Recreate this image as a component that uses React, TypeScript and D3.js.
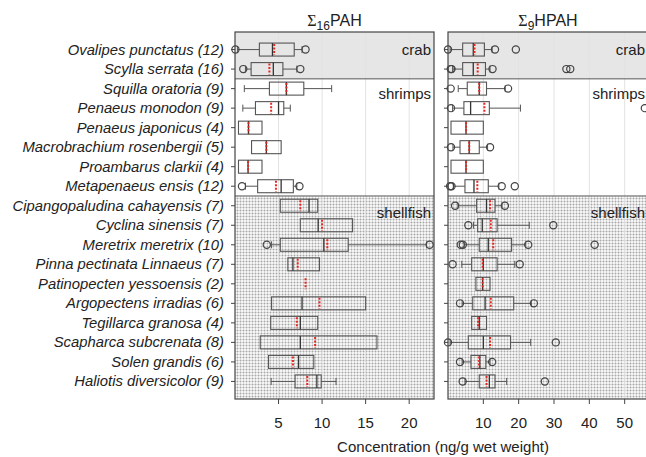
import { useRef, useEffect } from "react";
import * as d3 from "d3";

const species = [
  "Ovalipes punctatus (12)",
  "Scylla serrata (16)",
  "Squilla oratoria (9)",
  "Penaeus monodon (9)",
  "Penaeus japonicus (4)",
  "Macrobrachium rosenbergii (5)",
  "Proambarus clarkii (4)",
  "Metapenaeus ensis (12)",
  "Cipangopaludina cahayensis (7)",
  "Cyclina sinensis (7)",
  "Meretrix meretrix (10)",
  "Pinna pectinata Linnaeus (7)",
  "Patinopecten yessoensis (2)",
  "Argopectens irradias (6)",
  "Tegillarca granosa (4)",
  "Scapharca subcrenata (8)",
  "Solen grandis (6)",
  "Haliotis diversicolor (9)",
];

const groupNames = ["crab", "shrimps", "shellfish"];

// Σ16PAH
const pahLo = [0.3, 1.2, 1.07, 0.9, 0.4, 1.9, 0.4, 1.2, 5.2, 7.5, 4.2, 6.07, 8.1, 4.2, 4.1, 2.9, 3.85, 4.15];
const pahQ1 = [2.8, 1.85, 3.95, 2.35, 0.4, 1.9, 0.4, 2.6, 5.2, 7.5, 5.2, 6.07, 8.1, 4.2, 4.1, 2.9, 3.85, 6.9];
const pahMed = [4.3, 4.4, 5.9, 5.0, 1.55, 3.6, 1.5, 5.3, 8.5, 9.55, 10.2, 6.65, 8.1, 7.7, 7.5, 7.5, 7.3, 9.4];
const pahQ3 = [6.8, 5.5, 7.9, 5.6, 3.1, 5.3, 3.1, 6.7, 9.5, 13.5, 13.0, 9.7, 8.1, 15.0, 9.5, 16.3, 9.05, 9.9];
const pahHi = [7.7, 7.1, 11.1, 6.35, 3.1, 5.3, 3.1, 7.1, 9.5, 13.5, 22.0, 9.7, 8.1, 15.0, 9.5, 16.3, 9.05, 11.6];
const pahMean = [4.5, 3.95, 5.9, 4.15, 1.55, 3.6, 1.5, 4.7, 7.5, 10.0, 10.6, 7.2, 8.1, 9.7, 7.1, 9.2, 6.65, 8.3];
const pahOut = [[0.05, 8.1], [0.95, 7.5], [], [], [], [], [], [0.8, 7.4], [], [], [3.65, 22.35], [], [], [], [], [], [], []];

// Σ9HPAH
const hpahLo = [0.6, 1.3, 2.9, 1.3, 0.85, 1.4, 0.85, 1.5, 2.8, 7.2, 4.6, 3.9, 7.9, 4.0, 6.7, 0.6, 4.0, 4.8];
const hpahQ1 = [4.15, 4.15, 5.45, 4.5, 0.85, 3.4, 0.85, 4.8, 8.1, 8.4, 8.85, 6.7, 7.9, 7.0, 6.7, 5.75, 6.5, 8.85];
const hpahMed = [7.15, 7.15, 8.85, 6.4, 5.1, 6.0, 5.1, 7.35, 10.9, 9.7, 11.4, 10.0, 9.8, 10.5, 8.85, 10.0, 9.0, 11.7];
const hpahQ3 = [10.3, 10.6, 10.9, 11.7, 10.0, 8.85, 10.0, 11.4, 13.3, 13.9, 18.0, 13.9, 11.9, 18.6, 10.9, 17.7, 10.7, 13.3];
const hpahHi = [12.5, 11.9, 16.2, 20.5, 10.0, 11.2, 10.0, 14.4, 15.3, 23.0, 22.0, 18.9, 11.9, 23.6, 10.9, 23.4, 11.9, 16.6];
const hpahMean = [7.5, 8.4, 8.85, 10.3, 5.1, 6.0, 5.1, 8.3, 11.9, 12.1, 12.8, 9.8, 9.8, 12.1, 8.5, 11.9, 8.8, 10.9];
const hpahOut = [
  [0.0, 13.3, 19.2], [0.8, 1.0, 12.6, 33.5, 34.6], [0.75, 17.0], [0.85, 55.7], [], [0.85, 11.9], [],
  [0.6, 1.0, 15.2, 18.9], [2.0, 16.1], [5.75, 29.8], [3.6, 4.2, 22.7, 41.5], [1.3, 20.3], [],
  [3.4, 24.3], [], [0.0, 30.5], [3.4, 12.5], [4.15, 27.4],
];

const pahTicks = [5, 10, 15, 20];
const hpahTicks = [10, 20, 30, 40, 50];

export default function App() {
  const svgRef = useRef(null);

  useEffect(() => {
    const svg = d3.select(svgRef.current);
    svg.selectAll("*").remove();

    const top = 32;
    const bottom = 399;
    const y = d3.scalePoint().domain(species).range([top, bottom]).padding(0.9);
    const boxH = 13;
    const capH = 7;
    const font = "Arial, 'Liberation Sans', sans-serif";

    const defs = svg.append("defs");
    const pat = defs
      .append("pattern")
      .attr("id", "dots")
      .attr("width", 3)
      .attr("height", 3)
      .attr("patternUnits", "userSpaceOnUse");
    pat.append("rect").attr("width", 3).attr("height", 3).attr("fill", "#f4f4f4");
    pat.append("rect").attr("width", 3).attr("height", 1).attr("fill", "#d6d6d6");
    pat.append("rect").attr("width", 1).attr("height", 3).attr("fill", "#d6d6d6");
    pat.append("rect").attr("width", 1).attr("height", 1).attr("fill", "#a8a8a8");

    const b1 = (y(species[1]) + y(species[2])) / 2;
    const b2 = (y(species[7]) + y(species[8])) / 2;
    const bands = [
      [top, b1, "#e6e6e6"],
      [b1, b2, "#ffffff"],
      [b2, bottom, "url(#dots)"],
    ];

    const panels = [
      {
        x0: 235, x1: 434, domain: [0, 22.85], ticks: pahTicks, sub: "16", name: "PAH",
        lo: pahLo, q1: pahQ1, med: pahMed, q3: pahQ3, hi: pahHi, mean: pahMean, out: pahOut,
      },
      {
        x0: 448, x1: 648, domain: [0, 56.6], ticks: hpahTicks, sub: "9", name: "HPAH",
        lo: hpahLo, q1: hpahQ1, med: hpahMed, q3: hpahQ3, hi: hpahHi, mean: hpahMean, out: hpahOut,
      },
    ];

    panels.forEach((p) => {
      const x = d3.scaleLinear().domain(p.domain).range([p.x0, p.x1]);
      const g = svg.append("g");

      bands.forEach(([a, b, fill]) => {
        g.append("rect")
          .attr("x", p.x0)
          .attr("y", a)
          .attr("width", p.x1 - p.x0)
          .attr("height", b - a)
          .attr("fill", fill);
      });

      // faint grid at ticks
      g.selectAll(".grid")
        .data(p.ticks)
        .enter()
        .append("line")
        .attr("x1", (d) => x(d))
        .attr("x2", (d) => x(d))
        .attr("y1", top)
        .attr("y2", bottom)
        .attr("stroke", "#e2e2e2")
        .attr("stroke-width", 1);

      [b1, b2].forEach((b) => {
        g.append("line")
          .attr("x1", p.x0)
          .attr("x2", p.x1)
          .attr("y1", b)
          .attr("y2", b)
          .attr("stroke", "#555")
          .attr("stroke-width", 1);
      });

      // group labels
      groupNames.forEach((name, i) => {
        const yy = i === 0 ? y(species[0]) + 5 : i === 1 ? b1 + 20 : b2 + 22;
        g.append("text")
          .attr("x", p.x1 - 3)
          .attr("y", yy)
          .attr("text-anchor", "end")
          .attr("font-family", font)
          .attr("font-size", 15)
          .attr("fill", "#222")
          .text(name);
      });

      // boxes
      species.forEach((s, i) => {
        const cy = y(s);
        const stroke = "#555";
        if (p.lo[i] < p.q1[i]) {
          g.append("line").attr("x1", x(p.lo[i])).attr("x2", x(p.q1[i])).attr("y1", cy).attr("y2", cy).attr("stroke", stroke);
          g.append("line").attr("x1", x(p.lo[i])).attr("x2", x(p.lo[i])).attr("y1", cy - capH / 2).attr("y2", cy + capH / 2).attr("stroke", stroke);
        }
        if (p.hi[i] > p.q3[i]) {
          g.append("line").attr("x1", x(p.q3[i])).attr("x2", x(p.hi[i])).attr("y1", cy).attr("y2", cy).attr("stroke", stroke);
          g.append("line").attr("x1", x(p.hi[i])).attr("x2", x(p.hi[i])).attr("y1", cy - capH / 2).attr("y2", cy + capH / 2).attr("stroke", stroke);
        }
        g.append("rect")
          .attr("x", x(p.q1[i]))
          .attr("y", cy - boxH / 2)
          .attr("width", Math.max(0, x(p.q3[i]) - x(p.q1[i])))
          .attr("height", boxH)
          .attr("fill", "none")
          .attr("stroke", stroke)
          .attr("stroke-width", 1.1);
        if (p.q3[i] > p.q1[i]) {
          g.append("line")
            .attr("x1", x(p.med[i]))
            .attr("x2", x(p.med[i]))
            .attr("y1", cy - boxH / 2)
            .attr("y2", cy + boxH / 2)
            .attr("stroke", "#333")
            .attr("stroke-width", 1.3);
        }
        g.append("line")
          .attr("x1", x(p.mean[i]))
          .attr("x2", x(p.mean[i]))
          .attr("y1", cy - boxH / 2 + 1)
          .attr("y2", cy + boxH / 2 - 1)
          .attr("stroke", "#e8251f")
          .attr("stroke-width", 2)
          .attr("stroke-dasharray", "2,1.5");
        g.selectAll(null)
          .data(p.out[i])
          .enter()
          .append("circle")
          .attr("cx", (d) => x(d))
          .attr("cy", cy)
          .attr("r", 3.6)
          .attr("fill", "none")
          .attr("stroke", "#444")
          .attr("stroke-width", 1.2);
      });

      // border
      g.append("rect")
        .attr("x", p.x0)
        .attr("y", top)
        .attr("width", p.x1 - p.x0)
        .attr("height", bottom - top)
        .attr("fill", "none")
        .attr("stroke", "#444")
        .attr("stroke-width", 1.2);

      // x ticks
      g.selectAll(".xt")
        .data(p.ticks)
        .enter()
        .append("line")
        .attr("x1", (d) => x(d))
        .attr("x2", (d) => x(d))
        .attr("y1", bottom)
        .attr("y2", bottom + 5)
        .attr("stroke", "#444");
      g.selectAll(".xl")
        .data(p.ticks)
        .enter()
        .append("text")
        .attr("x", (d) => x(d))
        .attr("y", 428)
        .attr("text-anchor", "middle")
        .attr("font-family", font)
        .attr("font-size", 15)
        .attr("fill", "#222")
        .text((d) => d);

      // y ticks
      g.selectAll(".yt")
        .data(species)
        .enter()
        .append("line")
        .attr("x1", p.x0 - 4)
        .attr("x2", p.x0)
        .attr("y1", (d) => y(d))
        .attr("y2", (d) => y(d))
        .attr("stroke", "#444");

      // title
      const t = g
        .append("text")
        .attr("x", (p.x0 + p.x1) / 2)
        .attr("y", 26)
        .attr("text-anchor", "middle")
        .attr("font-family", font)
        .attr("font-size", 16)
        .attr("fill", "#222");
      t.append("tspan").attr("font-family", "'Liberation Serif', serif").text("Σ");
      t.append("tspan").attr("font-size", 12).attr("dy", 4).text(p.sub);
      t.append("tspan").attr("dy", -4).text(p.name);
    });

    // species labels
    svg
      .append("g")
      .selectAll("text")
      .data(species)
      .enter()
      .append("text")
      .attr("x", 224)
      .attr("y", (d) => y(d) + 5)
      .attr("text-anchor", "end")
      .attr("font-family", font)
      .attr("font-style", "italic")
      .attr("font-size", 14.8)
      .attr("fill", "#222")
      .text((d) => d);

    svg
      .append("text")
      .attr("x", 443)
      .attr("y", 452)
      .attr("text-anchor", "middle")
      .attr("font-family", font)
      .attr("font-size", 15)
      .attr("fill", "#222")
      .text("Concentration (ng/g wet weight)");
  }, []);

  return (
    <svg
      ref={svgRef}
      width={646}
      height={457}
      style={{ position: "absolute", left: 0, top: 0, background: "#fff" }}
    ></svg>
  );
}
